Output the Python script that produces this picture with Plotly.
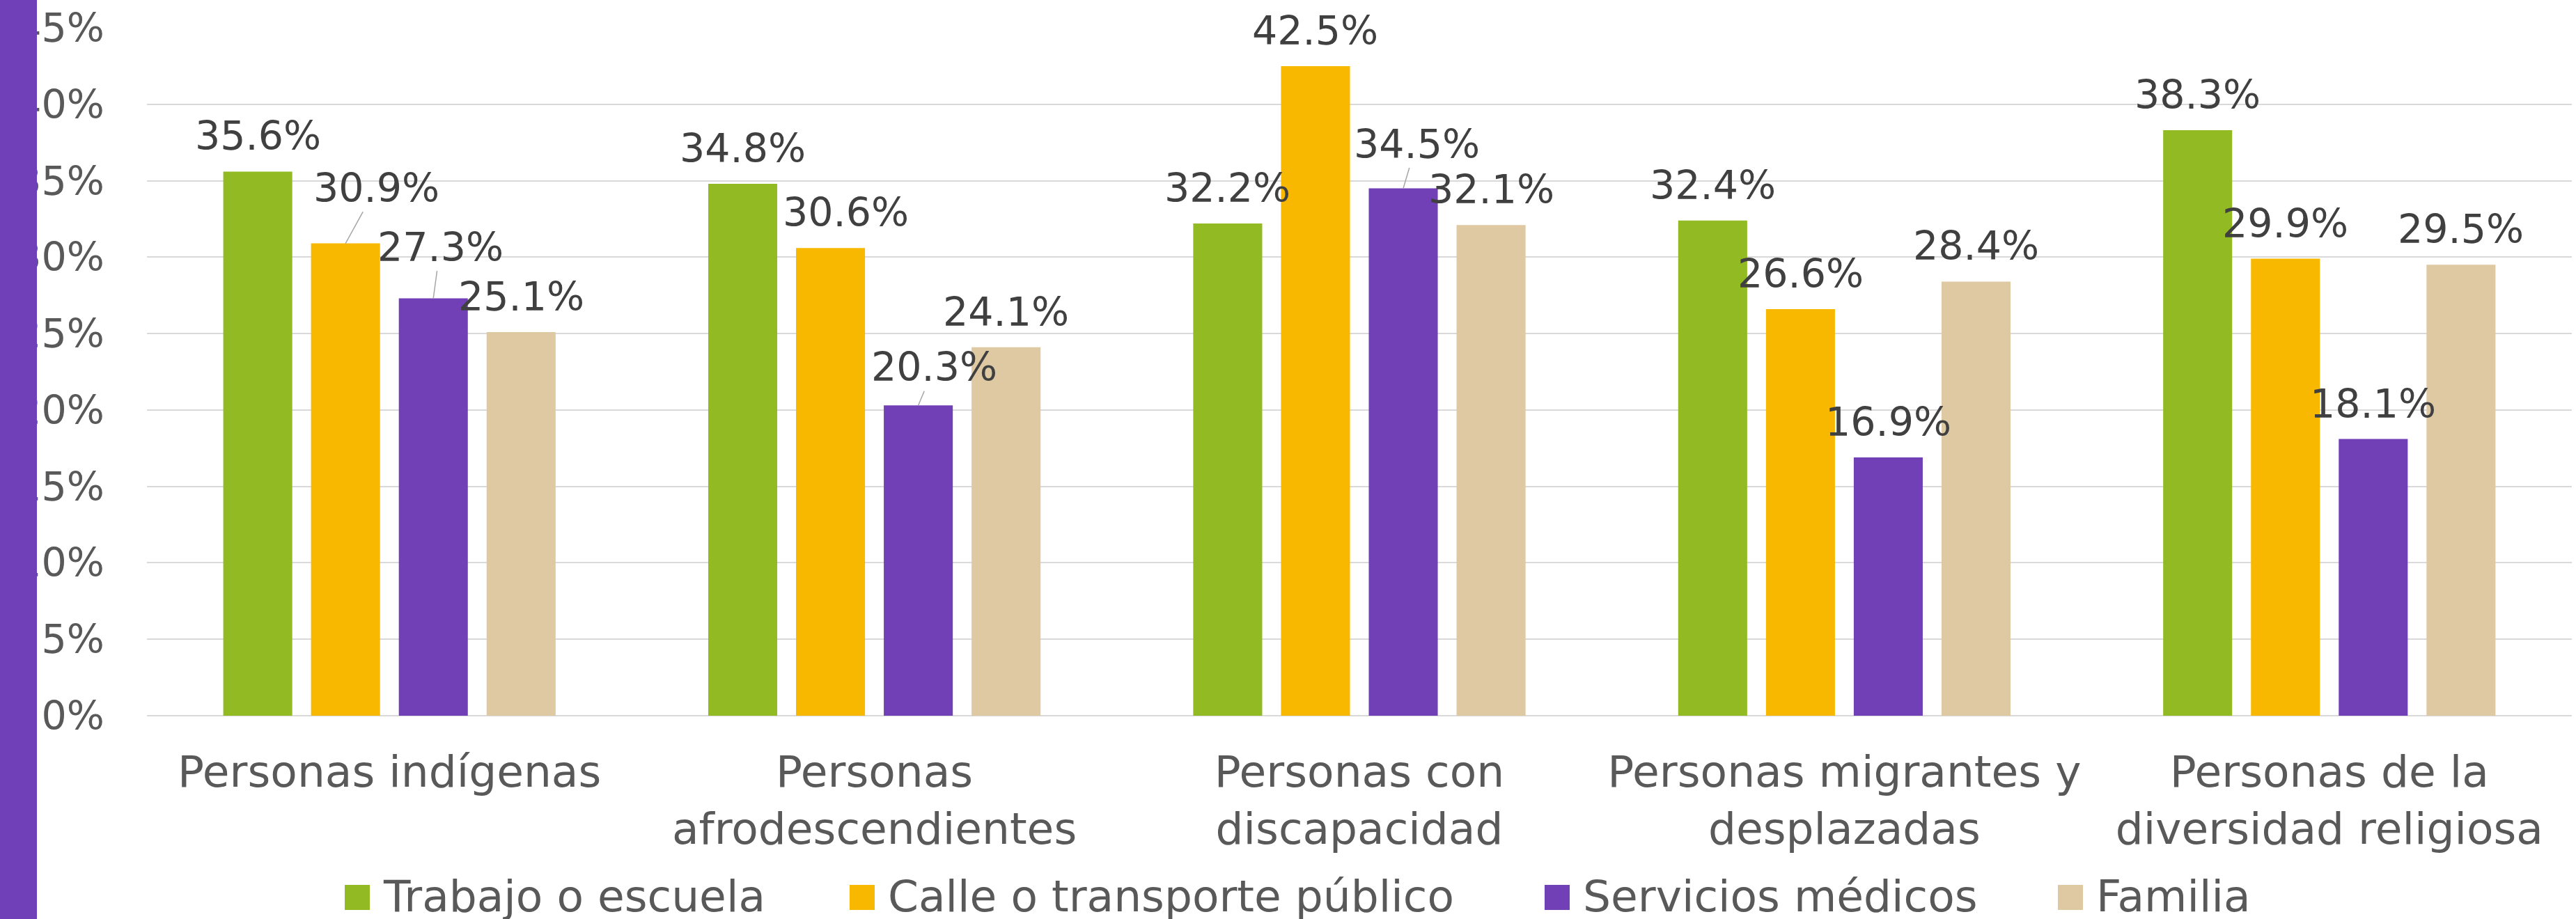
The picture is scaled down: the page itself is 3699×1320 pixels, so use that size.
import plotly.graph_objects as go

# data
categorias = ["Personas indígenas", "Personas<br>afrodescendientes", "Personas con<br>discapacidad",
              "Personas migrantes y<br>desplazadas", "Personas de la<br>diversidad religiosa"]
series = ["Trabajo o escuela", "Calle o transporte público", "Servicios médicos", "Familia"]
trabajo_escuela = [35.6, 34.8, 32.2, 32.4, 38.3]
calle_transporte = [30.9, 30.6, 42.5, 26.6, 29.9]
servicios_medicos = [27.3, 20.3, 34.5, 16.9, 18.1]
familia = [25.1, 24.1, 32.1, 28.4, 29.5]
y_ticks = [0, 5, 10, 15, 20, 25, 30, 35, 40, 45]
y_ticktext = [f"{t}%" for t in y_ticks]

valores = [trabajo_escuela, calle_transporte, servicios_medicos, familia]
colores = ["#92BB23", "#F9B800", "#7140B7", "#DFC9A3"]

# page / plot geometry (px)
W, H = 3699, 1320
ML, MR, MT, MB = 211, 6, 40, 292
pw, ph = W - ML - MR, H - MT - MB
BARGAP = 0.276
slot = (1 - BARGAP) / len(series)

FONT = "DejaVu Sans"
GRIS = "#595959"
OSCURO = "#404040"


def px_x(x):
    return (x - ML) / pw


def px_y(y):
    return (H - MB - y) / ph


# labels moved by hand in the original (dx, dy px, leader line)
ajustes = {
    (1, 0): (44, -29, True),
    (2, 0): (10, -23, True),
    (1, 1): (22, 0, False),
    (2, 1): (23, -4, True),
    (2, 2): (19, -13, True),
}

fig = go.Figure()
for i, nombre in enumerate(series):
    fig.add_trace(go.Bar(
        x=list(range(len(categorias))), y=valores[i], name=nombre,
        marker=dict(color=colores[i], line=dict(width=0)),
        showlegend=False, hoverinfo="skip"))

anotaciones = []
for i in range(len(series)):
    for j, v in enumerate(valores[i]):
        xpos = j + (i - 1.5) * slot
        dx, dy, linea = ajustes.get((i, j), (0, 0, False))
        txt = f"{v:.1f}%"
        if linea:
            anotaciones.append(dict(
                x=xpos, y=v, xref="x", yref="y", text=txt, showarrow=True,
                ax=dx, ay=-51 + dy, arrowhead=0, arrowwidth=1.5, arrowcolor="#A6A6A6",
                standoff=0, font=dict(family=FONT, size=57, color=OSCURO)))
        else:
            anotaciones.append(dict(
                x=xpos, y=v, xref="x", yref="y", text=txt, showarrow=False,
                xshift=dx, yshift=51 - dy, yanchor="middle",
                font=dict(family=FONT, size=57, color=OSCURO)))

# legend drawn by hand so the squares match the original size
leg_x = [495, 1220, 2218, 2955]
formas = [dict(type="rect", xref="paper", yref="paper", layer="above",
               x0=px_x(0), x1=px_x(53), y0=px_y(H), y1=px_y(0),
               fillcolor="#7040B8", line=dict(width=0))]
for i, nombre in enumerate(series):
    formas.append(dict(type="rect", xref="paper", yref="paper",
                       x0=px_x(leg_x[i]), x1=px_x(leg_x[i] + 36),
                       y0=px_y(1307), y1=px_y(1271),
                       fillcolor=colores[i], line=dict(width=0)))
    anotaciones.append(dict(x=px_x(leg_x[i] + 53), y=px_y(1287), xref="paper", yref="paper",
                            text=nombre, showarrow=False, xanchor="left", yanchor="middle",
                            font=dict(family=FONT, size=63, color=GRIS)))

fig.update_layout(
    width=W, height=H,
    margin=dict(l=ML, r=MR, t=MT, b=MB),
    paper_bgcolor="white", plot_bgcolor="white",
    barmode="group", bargap=BARGAP, bargroupgap=0.214,
    font=dict(family=FONT, color=GRIS),
    annotations=anotaciones, shapes=formas,
    xaxis=dict(tickmode="array", tickvals=list(range(len(categorias))), ticktext=categorias,
               tickfont=dict(family=FONT, size=63, color=GRIS), showgrid=False,
               showline=False, zeroline=False, ticks="", ticklabelstandoff=38,
               range=[-0.5, len(categorias) - 0.5]),
    yaxis=dict(range=[0, 45], tickmode="array", tickvals=y_ticks, ticktext=y_ticktext,
               tickfont=dict(family=FONT, size=57, color=GRIS),
               showgrid=True, gridcolor="#D9D9D9", gridwidth=2,
               zeroline=True, zerolinecolor="#D9D9D9", zerolinewidth=2,
               showline=False, ticks="", ticklabelstandoff=60),
)

fig.write_html("out.html", config={"displayModeBar": False},
               post_script="document.body.style.margin = '0';")
